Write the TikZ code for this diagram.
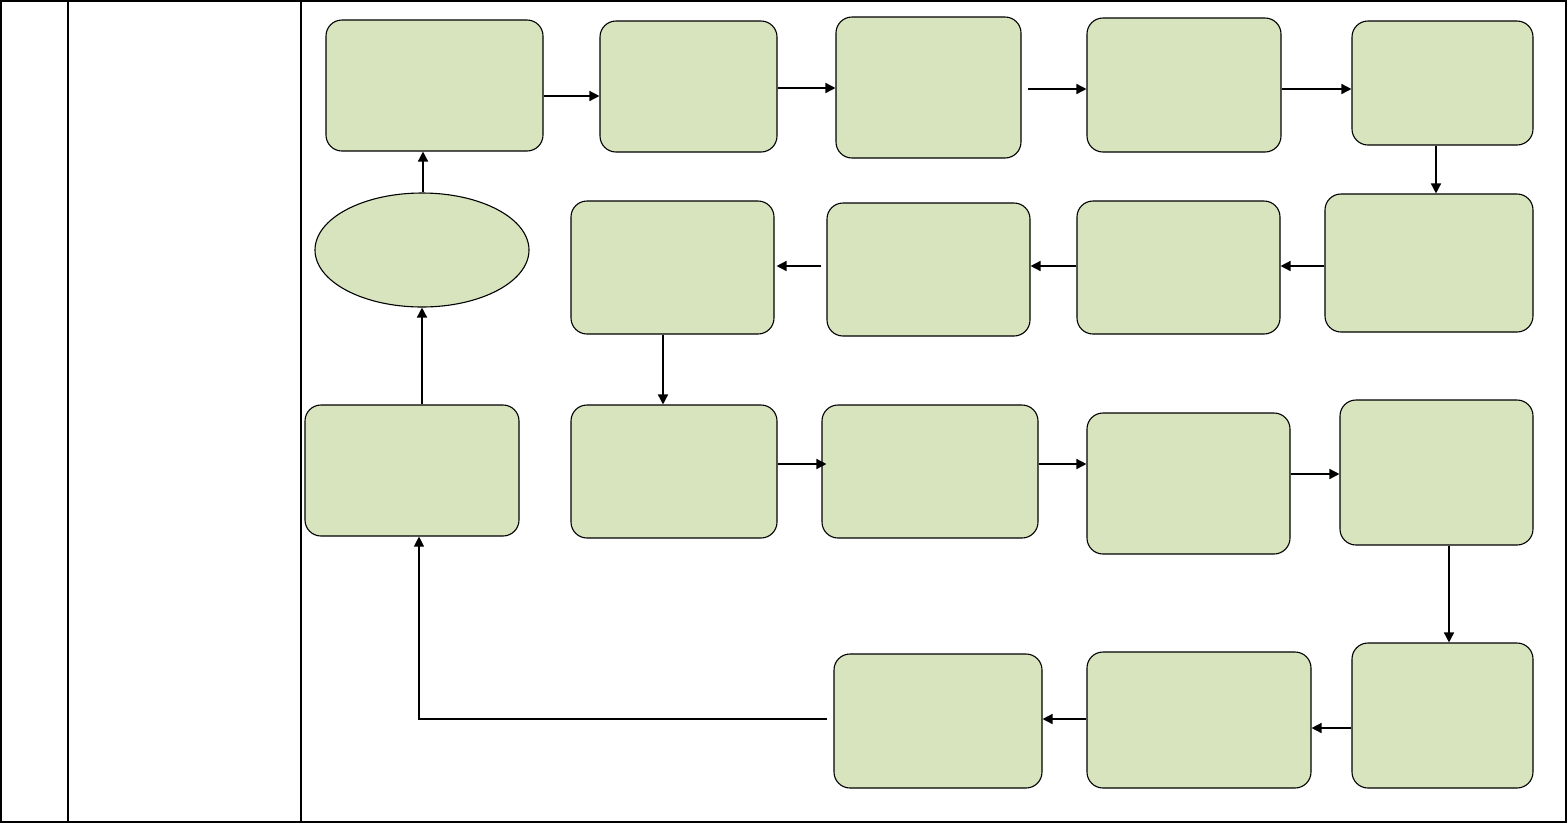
\documentclass[tikz,border=0pt]{standalone}
\usetikzlibrary{arrows.meta,shapes.geometric}
\definecolor{boxfill}{RGB}{215,228,189}
\tikzset{
  box/.style={draw=black, fill=boxfill, line width=1.1pt, rounded corners=16pt, inner sep=0pt},
  oval/.style={draw=black, fill=boxfill, line width=1.1pt, ellipse, inner sep=0pt},
  arr/.style={line width=1.5pt, -{Triangle[length=10pt,width=10pt]}},
  thinarr/.style={line width=1.1pt, -{Triangle[length=10pt,width=10pt]}},
  rule/.style={line width=1.6pt}
}
\begin{document}
\begin{tikzpicture}[x=1pt,y=-1pt]
\useasboundingbox (0,0) rectangle (1567,823);
% table frame
\draw[rule] (1,1) rectangle (1566,822);
\draw[rule] (68,1) -- (68,822);
\draw[rule] (301,1) -- (301,822);
% row 1
\node[box, minimum width=217pt, minimum height=131pt] (A1) at (434.5,85.5) {};
\node[box, minimum width=177pt, minimum height=131pt] (A2) at (688.5,86.5) {};
\node[box, minimum width=185pt, minimum height=141pt] (A3) at (928.5,87.5) {};
\node[box, minimum width=194pt, minimum height=134pt] (A4) at (1184,85) {};
\node[box, minimum width=181pt, minimum height=124pt] (A5) at (1442.5,83) {};
% row 2
\node[box, minimum width=208pt, minimum height=138pt] (B1) at (1429,263) {};
\node[box, minimum width=203pt, minimum height=133pt] (B2) at (1178.5,267.5) {};
\node[box, minimum width=203pt, minimum height=133pt] (B3) at (928.5,269.5) {};
\node[box, minimum width=203pt, minimum height=133pt] (B4) at (672.5,267.5) {};
\node[oval, minimum width=214pt, minimum height=114pt] (E) at (422,250) {};
% row 3
\node[box, minimum width=214pt, minimum height=131pt] (C0) at (412,470.5) {};
\node[box, minimum width=206pt, minimum height=133pt] (C1) at (674,471.5) {};
\node[box, minimum width=216pt, minimum height=133pt] (C2) at (930,471.5) {};
\node[box, minimum width=203pt, minimum height=141pt] (C3) at (1188.5,483.5) {};
\node[box, minimum width=193pt, minimum height=145pt] (C4) at (1436.5,472.5) {};
% row 4
\node[box, minimum width=181pt, minimum height=145pt] (D1) at (1442.5,715.5) {};
\node[box, minimum width=224pt, minimum height=136pt] (D2) at (1199,720) {};
\node[box, minimum width=208pt, minimum height=134pt] (D3) at (938,721) {};
% level coordinates
\coordinate (h1) at (0,96);
\coordinate (h2) at (0,88);
\coordinate (h3) at (0,89);
\coordinate (h5) at (0,266);
\coordinate (h8) at (0,464);
\coordinate (h9) at (0,474);
\coordinate (h11) at (0,728);
\coordinate (h12) at (0,719);
\coordinate (v1) at (1436,0);
\coordinate (v2) at (663,0);
\coordinate (v3) at (1449,0);
\coordinate (v4) at (423,0);
\coordinate (v5) at (422,0);
\coordinate (v6) at (419,0);
% connectors
\draw[arr] (A1.east |- h1) -- (A2.west |- h1);
\draw[arr] (A2.east |- h2) -- (A3.west |- h2);
\draw[arr] ([xshift=6pt]A3.east |- h3) -- (A4.west |- h3);
\draw[arr] (A4.east |- h3) -- (A5.west |- h3);
\draw[arr] (A5.south -| v1) -- (B1.north -| v1);
\draw[arr] (B1.west |- h5) -- (B2.east |- h5);
\draw[arr] (B2.west |- h5) -- (B3.east |- h5);
\draw[arr] ([xshift=-5pt]B3.west |- h5) -- ([xshift=2pt]B4.east |- h5);
\draw[arr] (B4.south -| v2) -- (C1.north -| v2);
\draw[arr] (C1.east |- h8) -- ([xshift=5pt]C2.west |- h8);
\draw[arr] (C2.east |- h8) -- (C3.west |- h8);
\draw[arr] (C3.east |- h9) -- (C4.west |- h9);
\draw[arr] (C4.south -| v3) -- (D1.north -| v3);
\draw[arr] (D1.west |- h11) -- (D2.east |- h11);
\draw[arr] (D2.west |- h12) -- (D3.east |- h12);
\draw[thinarr] ([xshift=-6pt]D3.west |- h12) -| (C0.south -| v6);
\draw[arr] (C0.north -| v5) -- (E.south -| v5);
\draw[arr] (E.north -| v4) -- (A1.south -| v4);
\end{tikzpicture}
\end{document}
